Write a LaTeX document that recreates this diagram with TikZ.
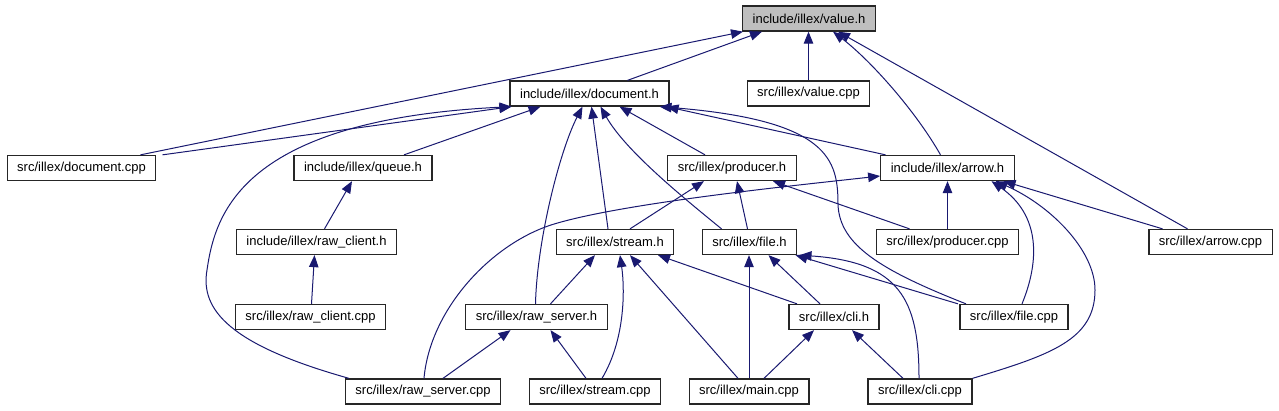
\documentclass[tikz,border=0pt]{standalone}
\usepackage{fontspec}
\setmainfont{Liberation Sans}
\usetikzlibrary{arrows.meta}
\definecolor{edgeblue}{HTML}{191970}
\definecolor{curgray}{HTML}{BFBFBF}

\begin{document}
\begin{tikzpicture}[x=1pt,y=-1pt,
  hdr/.style={draw=black!85,line width=1.3pt,fill=white,inner xsep=10pt,inner ysep=0pt,
    minimum height=25pt,font=\fontsize{13}{15}\selectfont},
  incl/.style={edgeblue,line width=1pt,-{Triangle[length=12pt,width=9.5pt]}}]
  \useasboundingbox (0,0) rectangle (1279,411);

  % files
  \node[hdr,fill=curgray] (valueH) at (809,18.5) {include/illex/value.h};
  \node[hdr] (docH) at (589.5,93.5) {include/illex/document.h};
  \node[hdr] (valueCpp) at (808.5,93.5) {src/illex/value.cpp};
  \node[hdr] (docCpp) at (81.5,168) {src/illex/document.cpp};
  \node[hdr] (queueH) at (363,168) {include/illex/queue.h};
  \node[hdr] (producerH) at (732,168) {src/illex/producer.h};
  \node[hdr] (arrowH) at (947.5,168) {include/illex/arrow.h};
  \node[hdr] (rawClientH) at (316.5,242) {include/illex/raw\_client.h};
  \node[hdr] (streamH) at (615,242) {src/illex/stream.h};
  \node[hdr] (fileH) at (749.5,242) {src/illex/file.h};
  \node[hdr] (producerCpp) at (947.5,242) {src/illex/producer.cpp};
  \node[hdr] (arrowCpp) at (1210.5,242) {src/illex/arrow.cpp};
  \node[hdr] (rawClientCpp) at (310.5,317) {src/illex/raw\_client.cpp};
  \node[hdr] (rawServerH) at (536.5,317) {src/illex/raw\_server.h};
  \node[hdr] (cliH) at (834,317) {src/illex/cli.h};
  \node[hdr] (fileCpp) at (1014,317) {src/illex/file.cpp};
  \node[hdr] (rawServerCpp) at (423,391.5) {src/illex/raw\_server.cpp};
  \node[hdr] (streamCpp) at (595,391.5) {src/illex/stream.cpp};
  \node[hdr] (mainCpp) at (749,391.5) {src/illex/main.cpp};
  \node[hdr] (cliCpp) at (920,391.5) {src/illex/cli.cpp};

  % includes of value.h
  \draw[incl] ([xshift=59]docCpp.north) -- ([xshift=-66]valueH.south);
  \draw[incl] ([xshift=38]docH.north) -- ([xshift=-47]valueH.south);
  \draw[incl] (valueCpp.north) -- (valueCpp.north |- valueH.south);
  \draw[incl] ([xshift=-7]arrowH.north) .. controls (915,110) and (870,60) .. ([xshift=24]valueH.south);
  \draw[incl] ([xshift=-23]arrowCpp.north) -- ([xshift=29]valueH.south);

  % includes of document.h
  \draw[incl] ([xshift=81]docCpp.north) -- ([xshift=2]docH.south west);
  \draw[incl] ([xshift=-74]rawServerCpp.north) .. controls (230,345) and (200,310) .. (207,270)
    .. controls (215,215) and (240,120) .. ([xshift=2]docH.south west);
  \draw[incl] ([xshift=41]queueH.north) -- ([xshift=-49]docH.south);
  \draw[incl] ([xshift=-1]rawServerH.north) .. controls (537,240) and (560,150) .. ([xshift=-7]docH.south);
  \draw[incl] ([xshift=-7]streamH.north) -- ([xshift=2]docH.south);
  \draw[incl] ([xshift=-28]fileH.north) .. controls (680,195) and (625,150) .. ([xshift=11]docH.south);
  \draw[incl] ([xshift=-27]producerH.north) -- ([xshift=30]docH.south);
  \draw[incl] ([xshift=-48]fileCpp.north) .. controls (880,270) and (840,245) .. (838,205)
    .. controls (838,160) and (830,120) .. ([xshift=-10]docH.south east);
  \draw[incl] ([xshift=-62]arrowH.north) -- ([xshift=-3]docH.south east);

  % queue.h and raw_client.h
  \draw[incl] ([xshift=8]rawClientH.north) -- ([xshift=-11]queueH.south);
  \draw[incl] ([xshift=1]rawClientCpp.north) -- ([xshift=-2]rawClientH.south);

  % includes of producer.h
  \draw[incl] ([xshift=15]streamH.north) -- ([xshift=-28]producerH.south);
  \draw[incl] ([xshift=-2]fileH.north) -- ([xshift=5]producerH.south);
  \draw[incl] ([xshift=-38]producerCpp.north) -- ([xshift=41]producerH.south);

  % includes of arrow.h
  \draw[incl] ([xshift=1]rawServerCpp.north) .. controls (430,310) and (490,245) .. (551,225)
    .. controls (620,203) and (800,185) .. ([yshift=-8]arrowH.west);
  \draw[incl] (producerCpp.north) -- (arrowH.south);
  \draw[incl] ([xshift=-48]arrowCpp.north) -- ([xshift=56]arrowH.south);
  \draw[incl] ([xshift=8]fileCpp.north) .. controls (1040,260) and (1040,215) .. ([xshift=44]arrowH.south);
  \draw[incl] (cliCpp.north east) .. controls (1050,355) and (1095,340) .. (1095,290)
    .. controls (1095,250) and (1050,205) .. ([xshift=48]arrowH.south);

  % includes of stream.h
  \draw[incl] ([xshift=14]rawServerH.north) -- ([xshift=-20]streamH.south);
  \draw[incl] ([xshift=7]streamCpp.north) .. controls (625,340) and (625,290) .. ([xshift=5]streamH.south);
  \draw[incl] ([xshift=-11]mainCpp.north) -- ([xshift=15]streamH.south);
  \draw[incl] ([xshift=-37]cliH.north) -- ([xshift=43]streamH.south);

  % includes of file.h
  \draw[incl] (mainCpp.north) -- (mainCpp.north |- fileH.south);
  \draw[incl] ([xshift=-14]cliH.north) -- ([xshift=19]fileH.south);
  \draw[incl] ([xshift=-56]fileCpp.north) -- ([xshift=46]fileH.south);
  \draw[incl] ([xshift=-1]cliCpp.north) .. controls (919,300) and (900,262) .. ([xshift=50]fileH.south);

  % raw_server.h and cli.h
  \draw[incl] ([xshift=20]rawServerCpp.north) -- ([xshift=-26]rawServerH.south);
  \draw[incl] ([xshift=-9]streamCpp.north) -- ([xshift=14]rawServerH.south);
  \draw[incl] ([xshift=15]mainCpp.north) -- ([xshift=-20]cliH.south);
  \draw[incl] ([xshift=-17]cliCpp.north) -- ([xshift=18]cliH.south);
\end{tikzpicture}
\end{document}
